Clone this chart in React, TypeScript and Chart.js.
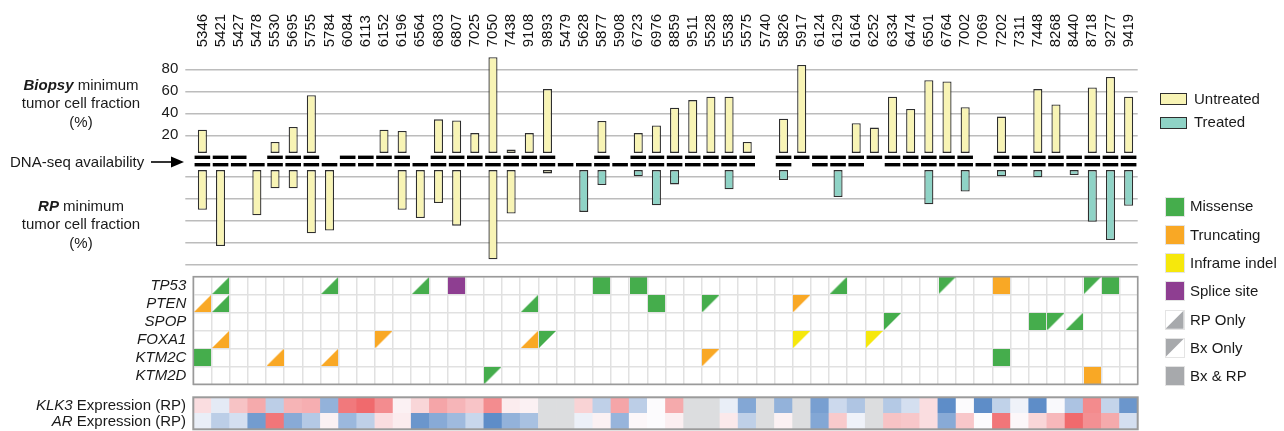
import React, { useEffect, useRef } from 'react';
import { Chart, registerables } from 'chart.js';

Chart.register(...registerables);

// ---------------- DATA ----------------
const untreatedSamples = ['5346','5421','5427','5478','5530','5695','5755','5784','6084','6113','6152','6196','6564','6803','6807','7025','7050','7438','9108','9893'];
const treatedSamples = ['5479','5628','5877','5908','6723','6976','8859','9511','5528','5538','5575','5740','5826','5917','6124','6129','6164','6252','6334','6474','6501','6764','7002','7069','7202','7311','7448','8268','8440','8718','9277','9419'];

// Biopsy minimum tumor cell fraction (%)
const biopsyTumorFraction: (number | null)[] = [
  25, null, null, null, 14, 27.5, 56.5, null, null, null,
  25, 24, null, 34.5, 33.5, 22, 91, 7, 22, 62,
  null, null, 33, null, 22, 29, 45, 52, 55, 55,
  14, null, 35, 84, null, null, 31, 27, 55, 44,
  70, 69, 45.5, null, 37, null, 62, 48, null, 63.5,
  73, 55,
];

// RP minimum tumor cell fraction (%)
const rpTumorFraction: (number | null)[] = [
  40, 73, null, 45, 20.5, 20.5, 61.5, 59, null, null,
  null, 40, 47.5, 34, 54.5, null, 85, 43.5, null, 7,
  null, 42, 17.5, null, 9.7, 36, 17, null, null, 21.5,
  null, null, 13, null, null, 28.5, null, null, null, null,
  35, null, 23.5, null, 9.7, null, 10.5, null, 8.5, 51,
  67.5, 36.5,
];

// DNA-seq availability (1 = available)
const biopsyDNAseq = [
  1, 1, 1, 0, 1, 1, 1, 0, 1, 1, 1, 1, 0, 1, 1, 1, 1, 1, 1, 1,
  0, 0, 1, 0, 1, 1, 1, 1, 1, 1, 1, 0, 1, 1, 1, 1, 1, 1, 1, 1,
  1, 1, 1, 0, 1, 1, 1, 1, 1, 1, 1, 1,
];
const rpDNAseq = [
  1, 1, 1, 1, 1, 1, 1, 1, 1, 1, 1, 1, 1, 1, 1, 1, 1, 1, 1, 1,
  1, 1, 1, 1, 1, 1, 1, 1, 1, 1, 1, 0, 1, 0, 1, 1, 1, 0, 1, 1,
  1, 1, 1, 1, 1, 1, 1, 1, 1, 1, 1, 1,
];

const genes = ['TP53', 'PTEN', 'SPOP', 'FOXA1', 'KTM2C', 'KTM2D'];

// [gene, sample, mutation type, where detected]
const mutations: [string, string, string, string][] = [
  ['TP53', '5421', 'Missense', 'RP'],
  ['TP53', '5784', 'Missense', 'RP'],
  ['TP53', '6564', 'Missense', 'RP'],
  ['TP53', '6807', 'Splice site', 'Both'],
  ['TP53', '5877', 'Missense', 'Both'],
  ['TP53', '6723', 'Missense', 'Both'],
  ['TP53', '6129', 'Missense', 'RP'],
  ['TP53', '6764', 'Missense', 'Bx'],
  ['TP53', '7202', 'Truncating', 'Both'],
  ['TP53', '8718', 'Missense', 'Bx'],
  ['TP53', '9277', 'Missense', 'Both'],
  ['PTEN', '5346', 'Truncating', 'RP'],
  ['PTEN', '5421', 'Missense', 'RP'],
  ['PTEN', '9108', 'Missense', 'RP'],
  ['PTEN', '6976', 'Missense', 'Both'],
  ['PTEN', '5528', 'Missense', 'Bx'],
  ['PTEN', '5917', 'Truncating', 'Bx'],
  ['SPOP', '6334', 'Missense', 'Bx'],
  ['SPOP', '7448', 'Missense', 'Both'],
  ['SPOP', '8268', 'Missense', 'Bx'],
  ['SPOP', '8440', 'Missense', 'RP'],
  ['FOXA1', '5421', 'Truncating', 'RP'],
  ['FOXA1', '6152', 'Truncating', 'Bx'],
  ['FOXA1', '9108', 'Truncating', 'RP'],
  ['FOXA1', '9893', 'Missense', 'Bx'],
  ['FOXA1', '5917', 'Inframe indel', 'Bx'],
  ['FOXA1', '6252', 'Inframe indel', 'Bx'],
  ['KTM2C', '5346', 'Missense', 'Both'],
  ['KTM2C', '5530', 'Truncating', 'RP'],
  ['KTM2C', '5784', 'Truncating', 'RP'],
  ['KTM2C', '5528', 'Truncating', 'Bx'],
  ['KTM2C', '7202', 'Missense', 'Both'],
  ['KTM2D', '7050', 'Missense', 'Bx'],
  ['KTM2D', '8718', 'Truncating', 'Both'],
];

// Relative expression (negative = low / blue, positive = high / red, null = not available)
const klk3Expression: (number | null)[] = [
  0.2, -0.15, 0.38, 0.55, -0.4, 0.48, 0.52, -0.65, 0.88, 0.98,
  0.75, 0.07, 0.25, 0.58, 0.47, 0.37, 0.75, 0.1, 0.07, null,
  null, 0.27, -0.38, 0.58, -0.4, 0.0, 0.55, null, null, -0.12,
  -0.75, null, -0.65, null, -0.82, -0.3, -0.48, null, -0.45, -0.25,
  0.2, -0.98, 0.0, -0.98, -0.37, -0.08, -0.98, -0.02, -0.5, 0.76,
  -0.35, -0.9,
];
const arExpression: (number | null)[] = [
  -0.12, -0.4, -0.25, -0.85, 0.9, -0.72, -0.45, 0.07, -0.6, -0.38,
  0.2, 0.1, -0.9, -0.72, -0.58, -0.32, -0.98, -0.65, -0.52, null,
  null, -0.1, 0.07, -0.63, 0.03, 0.0, 0.08, null, null, 0.12,
  -0.38, null, 0.07, null, -0.75, 0.33, -0.08, null, 0.38, 0.35,
  0.2, -0.72, 0.35, 0.0, 0.9, 0.03, 0.25, 0.45, 0.98, 0.72,
  0.55, -0.25,
];

// ---------------- STYLE ----------------
const samples = [...untreatedSamples, ...treatedSamples];
const UNTREATED = '#f8f4b5';
const TREATED = '#8fd3c6';
const BAR_EDGE = '#2e2e2e';
const GRID = '#bcbcbc';
const FONT = "'Liberation Sans', Arial, Helvetica, sans-serif";
const AREA_LEFT = 193.3;
const AREA_RIGHT_PAD = 1284 - 1137.7;
const mutationColors: Record<string, string> = {
  Missense: '#45ad4c',
  Truncating: '#f9a825',
  'Inframe indel': '#f6e80c',
  'Splice site': '#8e3e91',
};
const STATUS_GREY = '#a7a9ac';

Chart.defaults.font.family = FONT;
Chart.defaults.font.size = 15;
Chart.defaults.color = '#1a1a1a';

function expressionColor(v: number | null): string {
  if (v === null || v === undefined) return '#dcdddf';
  const white = [252, 251, 253];
  const end = v < 0 ? [91, 139, 199] : [240, 103, 106];
  const t = Math.min(1, Math.abs(v));
  const c = white.map((w, i) => Math.round(w + (end[i] - w) * t));
  return `rgb(${c[0]},${c[1]},${c[2]})`;
}

function cellImage(color: string, where: string): HTMLCanvasElement {
  const s = 17;
  const c = document.createElement('canvas');
  c.width = s;
  c.height = s;
  const g = c.getContext('2d')!;
  g.fillStyle = color;
  g.beginPath();
  if (where === 'Both') {
    g.rect(0, 0, s, s);
  } else if (where === 'RP') {
    g.moveTo(0, s);
    g.lineTo(s, s);
    g.lineTo(s, 0);
  } else {
    g.moveTo(0, 0);
    g.lineTo(s, 0);
    g.lineTo(0, s);
  }
  g.closePath();
  g.fill();
  return c;
}

const areaBorder = {
  id: 'areaBorder',
  afterDraw(chart: any, _args: any, opts: any) {
    if (!opts || !opts.color) return;
    const { ctx, chartArea } = chart;
    ctx.save();
    ctx.strokeStyle = opts.color;
    ctx.lineWidth = opts.width || 1;
    ctx.strokeRect(chartArea.left, chartArea.top, chartArea.right - chartArea.left, chartArea.bottom - chartArea.top);
    ctx.restore();
  },
};

const baseOpts = {
  responsive: false,
  animation: false as const,
  events: [] as any[],
  plugins: { legend: { display: false }, tooltip: { enabled: false } },
};

const noScalePadding = (s: any) => {
  s.paddingTop = 0;
  s.paddingBottom = 0;
  s.paddingLeft = 0;
  s.paddingRight = 0;
};

function yFractionAxis(reverse: boolean) {
  return {
    min: 0,
    max: 90,
    reverse,
    ticks: {
      stepSize: 10,
      padding: 7,
      color: '#1a1a1a',
      callback: (v: any) => (Number(v) % 20 === 0 && Number(v) > 0 ? String(v) : ''),
    },
    grid: {
      color: (ctx: any) => (ctx.tick && ctx.tick.value === 0 ? 'rgba(0,0,0,0)' : GRID),
      lineWidth: 1.5,
      tickLength: 8,
    },
    border: { display: false },
    afterFit: (s: any) => {
      s.width = AREA_LEFT;
      noScalePadding(s);
    },
  };
}

export default function App() {
  const topRef = useRef<HTMLCanvasElement>(null);
  const dnaRef = useRef<HTMLCanvasElement>(null);
  const botRef = useRef<HTMLCanvasElement>(null);
  const mutRef = useRef<HTMLCanvasElement>(null);
  const heatRef = useRef<HTMLCanvasElement>(null);

  useEffect(() => {
    const charts: Chart[] = [];

    charts.push(
      new Chart(topRef.current!, {
        type: 'bar',
        data: {
          labels: samples,
          datasets: [
            {
              label: 'Biopsy',
              data: biopsyTumorFraction as any,
              base: 4,
              backgroundColor: UNTREATED,
              borderColor: BAR_EDGE,
              borderWidth: 1.3,
              borderSkipped: false,
              barPercentage: 0.5,
              categoryPercentage: 1,
              clip: false,
            } as any,
          ],
        },
        options: {
          ...baseOpts,
          layout: { autoPadding: false, padding: { left: 0, right: AREA_RIGHT_PAD, top: 0, bottom: 2.7 } },
          scales: {
            x: {
              position: 'top',
              grid: { display: false, drawTicks: false },
              border: { display: false },
              ticks: { autoSkip: false, minRotation: 90, maxRotation: 90, padding: 11, labelOffset: 18, color: '#111' },
              afterFit: (s: any) => {
                s.height = 58.3;
                noScalePadding(s);
              },
            },
            y: yFractionAxis(false) as any,
          },
        } as any,
      })
    );

    charts.push(
      new Chart(botRef.current!, {
        type: 'bar',
        data: {
          labels: samples,
          datasets: [
            {
              label: 'RP',
              data: rpTumorFraction as any,
              base: 4,
              backgroundColor: samples.map((s) => (treatedSamples.includes(s) ? TREATED : UNTREATED)),
              borderColor: BAR_EDGE,
              borderWidth: 1.3,
              borderSkipped: false,
              barPercentage: 0.5,
              categoryPercentage: 1,
              clip: false,
            } as any,
          ],
        },
        options: {
          ...baseOpts,
          layout: { autoPadding: false, padding: { left: 0, right: AREA_RIGHT_PAD, top: 5.7, bottom: 5.3 } },
          scales: {
            x: { display: false },
            y: yFractionAxis(true) as any,
          },
        } as any,
      })
    );

    charts.push(
      new Chart(dnaRef.current!, {
        type: 'line',
        data: {
          labels: samples,
          datasets: [
            {
              label: 'Biopsy DNA-seq',
              data: biopsyDNAseq.map((v) => (v ? 'Biopsy' : null)) as any,
            },
            {
              label: 'RP DNA-seq',
              data: rpDNAseq.map((v) => (v ? 'RP' : null)) as any,
            },
          ],
        },
        options: {
          ...baseOpts,
          layout: { autoPadding: false, padding: { left: AREA_LEFT, right: AREA_RIGHT_PAD, top: 7.6, bottom: 7.6 } },
          datasets: {
            line: {
              showLine: false,
              pointStyle: 'line',
              pointRadius: 7.8,
              pointBorderWidth: 3.4,
              pointBorderColor: '#000',
              pointBackgroundColor: '#000',
              clip: false,
            },
          },
          scales: {
            x: { display: false, offset: true },
            y: { type: 'category', labels: ['Biopsy', 'RP'], offset: true, display: false },
          },
        } as any,
      })
    );

    charts.push(
      new Chart(mutRef.current!, {
        type: 'line',
        data: {
          labels: samples,
          datasets: [
            {
              label: 'Mutations',
              data: mutations.map(([gene, sample]) => ({ x: sample, y: gene })) as any,
              pointStyle: mutations.map(([, , type, where]) => cellImage(mutationColors[type], where)) as any,
              pointRadius: 8,
              showLine: false,
              clip: false,
            } as any,
          ],
        },
        options: {
          ...baseOpts,
          layout: { autoPadding: false, padding: { left: 0, right: AREA_RIGHT_PAD, top: 6.7, bottom: 5.7 } },
          scales: {
            x: {
              type: 'category',
              offset: true,
              grid: { offset: true, color: '#e1e1e1', lineWidth: 1.5, drawTicks: false },
              ticks: { display: false },
              border: { display: false },
              afterFit: (s: any) => {
                s.height = 0;
                noScalePadding(s);
              },
            },
            y: {
              type: 'category',
              labels: genes,
              offset: true,
              grid: { offset: true, color: '#e1e1e1', lineWidth: 1.5, drawTicks: false },
              ticks: { autoSkip: false, font: { style: 'italic', size: 15 }, padding: 7, color: '#1a1a1a' },
              border: { display: false },
              afterFit: (s: any) => {
                s.width = AREA_LEFT;
                noScalePadding(s);
              },
            },
          },
          plugins: { ...baseOpts.plugins, areaBorder: { color: '#9a9a9a', width: 1.6 } },
        } as any,
        plugins: [areaBorder as any],
      })
    );

    charts.push(
      new Chart(heatRef.current!, {
        type: 'bar',
        data: {
          labels: samples,
          datasets: [
            {
              label: 'AR Expression (RP)',
              data: arExpression.map(() => 1),
              backgroundColor: arExpression.map(expressionColor),
            },
            {
              label: 'KLK3 Expression (RP)',
              data: klk3Expression.map(() => 1),
              backgroundColor: klk3Expression.map(expressionColor),
            },
          ],
        },
        options: {
          ...baseOpts,
          layout: { autoPadding: false, padding: { left: AREA_LEFT, right: AREA_RIGHT_PAD, top: 7.3, bottom: 1.7 } },
          datasets: { bar: { barPercentage: 1, categoryPercentage: 1, borderWidth: 0 } },
          scales: {
            x: { stacked: true, display: false },
            y: { stacked: true, display: false, min: 0, max: 2 },
          },
          plugins: { ...baseOpts.plugins, areaBorder: { color: '#9b9b9b', width: 2 } },
        } as any,
        plugins: [areaBorder as any],
      })
    );

    return () => charts.forEach((c) => c.destroy());
  }, []);

  const text: React.CSSProperties = {
    position: 'absolute',
    fontFamily: FONT,
    fontSize: 15,
    color: '#1a1a1a',
    whiteSpace: 'nowrap',
    lineHeight: '18.5px',
  };
  const canvasStyle = (top: number): React.CSSProperties => ({ position: 'absolute', left: 0, top });

  const mutationLegend: [string, string, string][] = [
    ['Missense', mutationColors['Missense'], 'Both'],
    ['Truncating', mutationColors['Truncating'], 'Both'],
    ['Inframe indel', mutationColors['Inframe indel'], 'Both'],
    ['Splice site', mutationColors['Splice site'], 'Both'],
    ['RP Only', STATUS_GREY, 'RP'],
    ['Bx Only', STATUS_GREY, 'Bx'],
    ['Bx & RP', STATUS_GREY, 'Both'],
  ];
  const clip: Record<string, string> = {
    Both: 'none',
    RP: 'polygon(0 100%, 100% 100%, 100% 0)',
    Bx: 'polygon(0 0, 100% 0, 0 100%)',
  };

  return (
    <div style={{ position: 'absolute', left: 0, top: 0, width: 1284, height: 431, background: '#fff', overflow: 'hidden' }}>
      <canvas ref={topRef} width={1284} height={160} style={canvasStyle(0)} />
      <canvas ref={botRef} width={1284} height={110} style={canvasStyle(160)} />
      <canvas ref={dnaRef} width={1284} height={30} style={canvasStyle(146)} />
      <canvas ref={mutRef} width={1284} height={120} style={canvasStyle(270)} />
      <canvas ref={heatRef} width={1284} height={41} style={canvasStyle(390)} />

      {/* left annotations */}
      <div style={{ ...text, left: 1, top: 75.8, width: 160, textAlign: 'center' }}>
        <b><i>Biopsy</i></b> minimum<br />tumor cell fraction<br />(%)
      </div>
      <div style={{ ...text, left: 10, top: 152.5 }}>DNA-seq availability</div>
      <svg style={{ position: 'absolute', left: 150, top: 155 }} width={36} height={14}>
        <line x1={1} y1={7} x2={24} y2={7} stroke="#000" strokeWidth={1.6} />
        <polygon points="21,1.5 34,7 21,12.5" fill="#000" />
      </svg>
      <div style={{ ...text, left: 1, top: 196.5, width: 160, textAlign: 'center' }}>
        <b><i>RP</i></b> minimum<br />tumor cell fraction<br />(%)
      </div>
      <div style={{ ...text, left: 0, top: 397.3, width: 186, textAlign: 'right', lineHeight: '16px' }}>
        <i>KLK3</i> Expression (RP)<br />
        <i>AR</i> Expression (RP)
      </div>

      {/* sample group legend */}
      <div style={{ position: 'absolute', left: 1160, top: 93, width: 25, height: 10, background: UNTREATED, border: `1.5px solid ${BAR_EDGE}` }} />
      <div style={{ ...text, left: 1194, top: 89.5 }}>Untreated</div>
      <div style={{ position: 'absolute', left: 1160, top: 116.5, width: 25, height: 10, background: TREATED, border: `1.5px solid ${BAR_EDGE}` }} />
      <div style={{ ...text, left: 1194, top: 113 }}>Treated</div>

      {/* mutation legend */}
      {mutationLegend.map(([label, color, where], i) => {
        const top = 197 + i * 28.3;
        return (
          <React.Fragment key={label}>
            <div style={{ position: 'absolute', left: 1164.5, top: top - 0.5, width: 18, height: 18, border: '1px solid #e4e4e4', background: '#fff' }}>
              <div style={{ width: '100%', height: '100%', background: color, clipPath: clip[where] }} />
            </div>
            <div style={{ ...text, left: 1190, top: top + 0.3 }}>{label}</div>
          </React.Fragment>
        );
      })}
    </div>
  );
}
